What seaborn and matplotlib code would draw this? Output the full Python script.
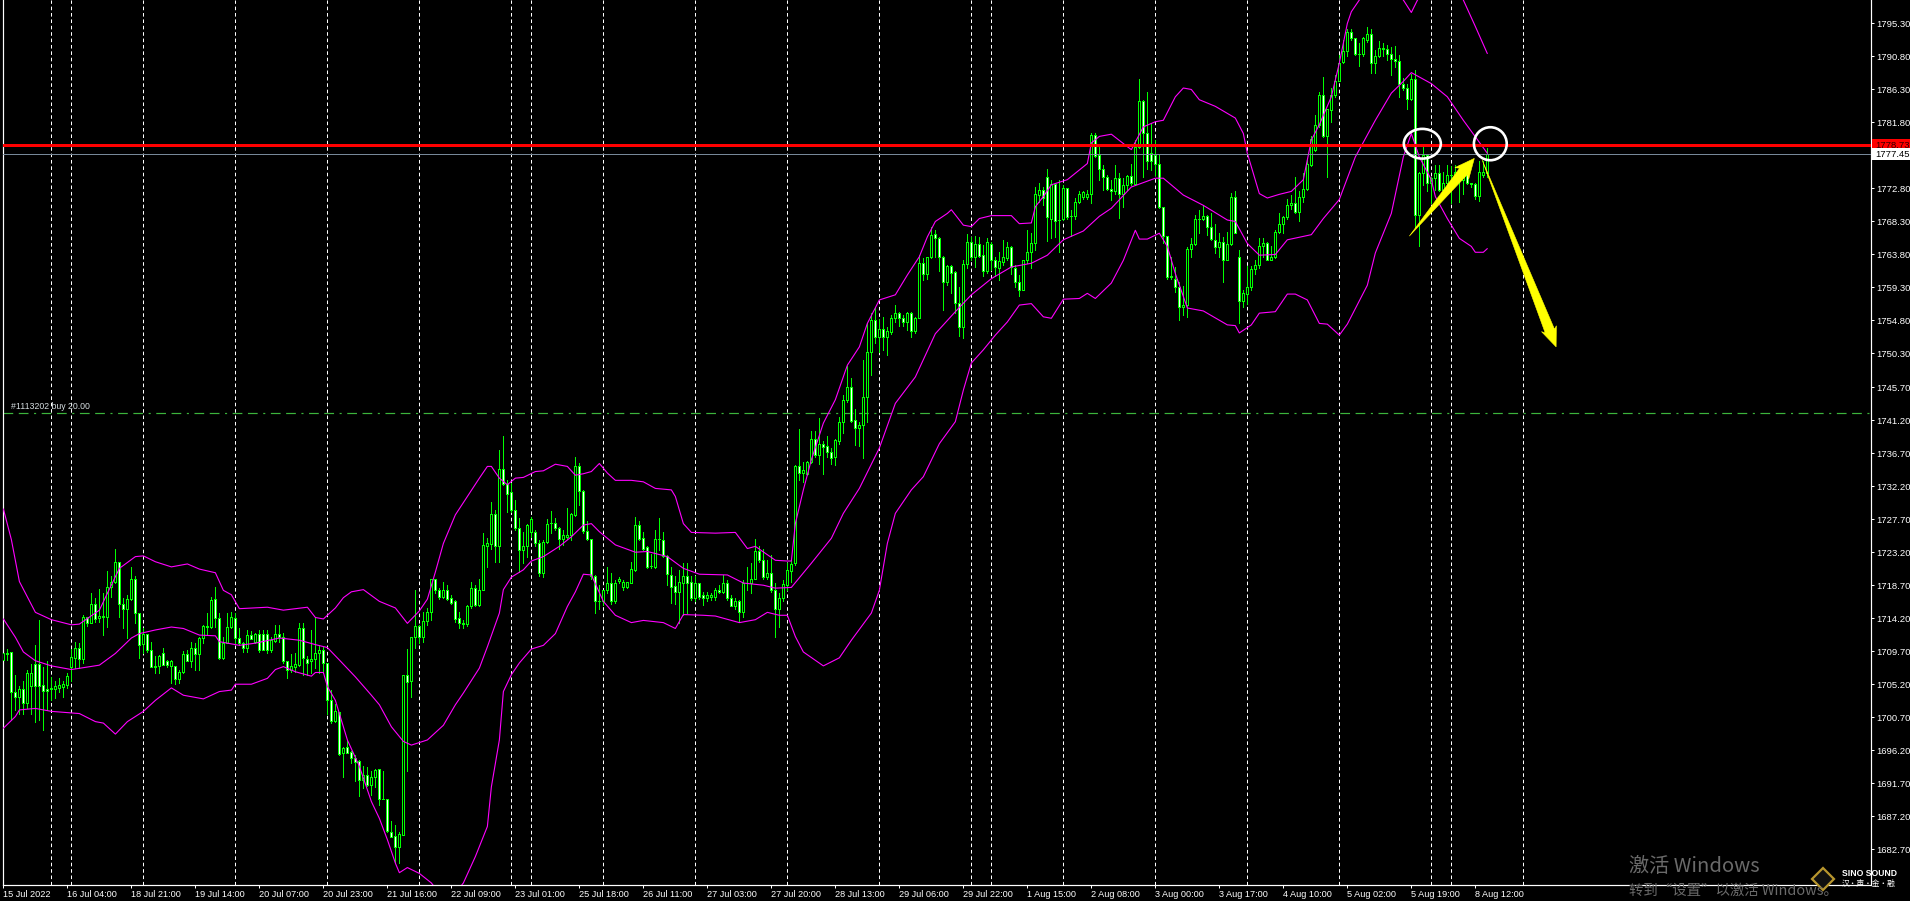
import numpy as np
import pandas as pd
import matplotlib
matplotlib.use("Agg")
import matplotlib.pyplot as plt
from matplotlib.patches import Ellipse, Polygon, Rectangle
import seaborn as sns

# ------------------------
# CHART DATA
# ------------------------

opens = [
    1708.5, 1709.3, 1709.6, 1704.1, 1703.5, 1704.5, 1702.6, 1704.9, 1708.0, 1708.0,
    1705.1, 1704.6, 1704.6, 1704.6, 1704.7, 1704.8, 1705.1, 1707.5, 1708.8, 1710.1,
    1708.6, 1714.3, 1713.6, 1716.2, 1714.2, 1714.3, 1714.4, 1718.4, 1719.1, 1721.9,
    1716.2, 1715.5, 1716.8, 1719.5, 1714.9, 1710.7, 1712.1, 1709.8, 1707.7, 1707.7,
    1709.4, 1708.3, 1707.7, 1707.7, 1705.9, 1706.9, 1709.3, 1708.4, 1710.1, 1709.3,
    1711.5, 1713.0, 1713.0, 1716.8, 1714.2, 1708.8, 1710.8, 1713.0, 1714.2, 1711.5,
    1710.8, 1710.1, 1711.9, 1711.0, 1712.0, 1712.0, 1712.0, 1709.8, 1711.1, 1712.1,
    1711.6, 1708.3, 1707.2, 1707.5, 1707.8, 1712.8, 1708.7, 1708.3, 1708.7, 1709.4,
    1709.8, 1708.05, 1703.1, 1700.2, 1701.4, 1695.8, 1696.6, 1695.9, 1695.2, 1694.7,
    1692.1, 1692.8, 1691.5, 1692.6, 1693.6, 1689.6, 1689.5, 1685.1, 1684.5, 1683.0,
    1684.7, 1706.5, 1705.7, 1711.7, 1713.2, 1711.6, 1713.8, 1715.0, 1719.5, 1718.0,
    1717.1, 1718.1, 1716.9, 1716.5, 1714.2, 1713.4, 1713.4, 1715.8, 1718.3, 1716.0,
    1718.1, 1724.1, 1724.3, 1728.4, 1724.0, 1734.6, 1732.5, 1731.4, 1729.0, 1726.5,
    1723.5, 1724.0, 1726.0, 1726.0, 1724.5, 1720.4, 1724.6, 1727.2, 1727.2, 1726.5,
    1725.0, 1725.3, 1725.5, 1728.3, 1735.0, 1731.6, 1726.1, 1725.0, 1719.9, 1716.5,
    1716.5, 1718.0, 1719.0, 1716.5, 1719.3, 1718.5, 1718.5, 1719.0, 1720.8, 1726.9,
    1725.2, 1723.9, 1721.3, 1721.2, 1725.0, 1724.9, 1722.7, 1720.1, 1718.6, 1717.8,
    1719.0, 1720.0, 1719.1, 1717.0, 1719.0, 1717.3, 1717.0, 1717.1, 1717.1, 1718.1,
    1717.8, 1719.0, 1717.0, 1715.9, 1716.6, 1715.0, 1719.0, 1719.0, 1719.6, 1723.4,
    1722.1, 1719.8, 1720.4, 1718.0, 1715.5, 1717.0, 1718.7, 1720.7, 1721.7, 1734.9,
    1734.0, 1733.9, 1735.5, 1738.6, 1736.4, 1737.9, 1737.7, 1736.9, 1736.2, 1738.4,
    1740.9, 1743.9, 1745.7, 1741.2, 1740.1, 1740.5, 1744.4, 1750.5, 1754.9, 1752.5,
    1753.7, 1752.5, 1753.2, 1755.2, 1755.8, 1755.1, 1754.6, 1755.8, 1753.4, 1755.2,
    1762.6, 1761.1, 1763.4, 1766.6, 1766.1, 1763.5, 1760.1, 1762.2, 1761.4, 1757.2,
    1753.9, 1762.5, 1765.5, 1763.4, 1765.2, 1763.7, 1761.5, 1765.2, 1763.1, 1762.0,
    1762.8, 1763.3, 1764.8, 1762.0, 1760.1, 1758.9, 1763.0, 1764.2, 1765.3, 1771.9,
    1772.6, 1774.4, 1768.6, 1773.4, 1768.5, 1768.7, 1772.8, 1769.1, 1769.1, 1770.9,
    1771.6, 1771.6, 1772.1, 1780.1, 1777.4, 1775.4, 1774.4, 1772.7, 1772.4, 1774.2,
    1772.0, 1773.3, 1774.5, 1773.4, 1778.4, 1784.7, 1780.4, 1777.7, 1777.4, 1776.1,
    1770.3, 1766.3, 1760.9, 1760.5, 1759.4, 1756.6, 1756.9, 1764.6, 1765.2, 1768.6,
    1768.7, 1769.0, 1767.5, 1765.8, 1764.8, 1765.5, 1763.1, 1765.2, 1771.6, 1763.4,
    1757.5, 1758.4, 1759.3, 1761.8, 1762.3, 1765.0, 1765.3, 1763.1, 1763.5, 1766.9,
    1767.9, 1768.9, 1770.6, 1770.8, 1769.6, 1771.6, 1772.7, 1776.0, 1778.0, 1781.5,
    1785.5, 1779.9, 1783.5, 1785.5, 1787.4, 1790.1, 1791.5, 1794.2, 1793.3, 1791.1,
    1791.1, 1793.1, 1793.8, 1789.9, 1790.9, 1792.0, 1791.8, 1791.1, 1790.5, 1790.2,
    1787.0, 1786.5, 1785.0, 1787.7, 1769.2, 1774.9, 1777.4, 1773.5, 1774.2, 1774.9,
    1772.6, 1773.5, 1774.6, 1774.7, 1775.1, 1774.0, 1774.8, 1773.5, 1773.4, 1771.8,
    1774.7, 1774.9,
]

closes = [
    1709.4, 1709.4, 1704.1, 1703.5, 1704.5, 1702.6, 1706.7, 1706.7, 1704.9, 1704.9,
    1704.3, 1704.3, 1704.7, 1704.9, 1705.1, 1705.2, 1706.3, 1708.9, 1710.1, 1708.6,
    1714.3, 1713.6, 1716.2, 1714.1, 1714.5, 1714.5, 1718.4, 1719.1, 1721.9, 1716.2,
    1715.5, 1716.8, 1719.5, 1714.9, 1710.5, 1712.0, 1709.8, 1707.6, 1707.6, 1709.0,
    1707.8, 1707.8, 1708.3, 1705.9, 1706.9, 1709.3, 1708.4, 1710.1, 1709.3, 1711.5,
    1713.2, 1713.2, 1716.7, 1714.2, 1708.8, 1710.8, 1713.0, 1714.3, 1711.5, 1710.8,
    1710.1, 1711.9, 1711.4, 1712.0, 1709.9, 1709.9, 1709.8, 1711.2, 1712.1, 1711.6,
    1708.3, 1707.2, 1707.7, 1708.0, 1712.8, 1708.8, 1708.1, 1708.7, 1709.4, 1709.8,
    1708.1, 1703.0, 1700.2, 1701.5, 1695.7, 1696.5, 1695.8, 1695.2, 1694.6, 1692.2,
    1692.8, 1691.5, 1692.5, 1693.5, 1689.5, 1689.5, 1685.2, 1684.4, 1683.0, 1684.8,
    1706.5, 1705.5, 1711.7, 1713.1, 1711.6, 1713.8, 1715.1, 1719.5, 1718.1, 1717.1,
    1718.1, 1716.8, 1716.3, 1714.1, 1713.5, 1713.5, 1715.8, 1718.3, 1716.0, 1718.1,
    1724.2, 1724.4, 1728.4, 1724.0, 1734.6, 1732.5, 1731.2, 1729.0, 1726.5, 1723.5,
    1724.0, 1726.9, 1727.7, 1724.5, 1720.4, 1724.6, 1727.1, 1727.2, 1726.5, 1725.0,
    1725.6, 1725.6, 1728.4, 1735.0, 1731.6, 1726.1, 1725.0, 1719.9, 1716.6, 1716.6,
    1718.0, 1719.0, 1716.5, 1719.0, 1719.5, 1719.2, 1719.2, 1720.9, 1726.9, 1725.0,
    1723.7, 1721.2, 1721.3, 1725.0, 1725.0, 1722.7, 1720.2, 1718.5, 1717.8, 1719.2,
    1719.9, 1719.0, 1716.9, 1719.0, 1717.1, 1717.0, 1717.3, 1717.4, 1718.1, 1717.8,
    1719.0, 1717.0, 1715.9, 1716.6, 1715.0, 1719.0, 1719.0, 1719.6, 1723.4, 1722.1,
    1719.8, 1720.4, 1718.0, 1715.5, 1717.0, 1718.8, 1720.8, 1721.6, 1734.9, 1734.0,
    1734.4, 1735.5, 1738.6, 1736.4, 1737.9, 1737.6, 1736.8, 1736.1, 1738.5, 1740.9,
    1744.0, 1745.7, 1741.1, 1740.1, 1740.5, 1744.4, 1750.5, 1754.8, 1752.5, 1753.7,
    1752.5, 1753.3, 1755.2, 1755.8, 1755.1, 1754.6, 1755.8, 1753.4, 1755.2, 1762.6,
    1761.1, 1763.4, 1766.4, 1766.1, 1763.5, 1760.1, 1762.2, 1761.3, 1757.2, 1753.9,
    1762.5, 1765.5, 1763.4, 1765.2, 1763.6, 1761.6, 1765.5, 1763.0, 1762.1, 1762.9,
    1763.4, 1764.8, 1762.1, 1760.1, 1758.9, 1763.0, 1764.2, 1765.4, 1772.0, 1772.6,
    1771.5, 1768.9, 1773.4, 1768.4, 1768.5, 1772.8, 1768.9, 1769.1, 1770.9, 1772.1,
    1772.3, 1772.1, 1780.1, 1777.2, 1775.4, 1774.4, 1772.7, 1772.4, 1774.2, 1772.0,
    1773.3, 1774.5, 1773.5, 1778.4, 1784.7, 1780.3, 1776.6, 1776.6, 1776.1, 1770.3,
    1766.3, 1760.7, 1760.7, 1759.4, 1756.6, 1756.9, 1764.6, 1765.2, 1768.7, 1768.7,
    1769.1, 1767.5, 1765.9, 1764.8, 1765.5, 1763.1, 1765.2, 1771.6, 1766.7, 1757.5,
    1758.5, 1759.3, 1761.8, 1762.3, 1765.0, 1765.3, 1763.1, 1763.5, 1766.9, 1767.9,
    1768.9, 1770.6, 1770.8, 1769.6, 1771.6, 1772.7, 1776.1, 1779.5, 1781.5, 1785.5,
    1779.9, 1783.6, 1785.5, 1787.4, 1789.95, 1791.5, 1794.2, 1793.3, 1791.1, 1791.1,
    1793.3, 1793.8, 1789.9, 1790.9, 1792.0, 1791.8, 1791.1, 1790.5, 1790.2, 1787.0,
    1786.5, 1785.0, 1787.7, 1769.2, 1774.9, 1777.4, 1773.5, 1774.2, 1774.9, 1772.6,
    1773.5, 1774.6, 1774.6, 1775.0, 1775.3, 1774.6, 1773.5, 1773.4, 1771.8, 1775.0,
    1775.0, 1777.5,
]

highs = [
    1712.4, 1710.0, 1709.6, 1706.5, 1704.9, 1705.6, 1707.1, 1708.0, 1710.6, 1714.0,
    1707.6, 1708.3, 1706.2, 1705.6, 1706.0, 1705.6, 1706.7, 1710.0, 1711.0, 1710.8,
    1714.7, 1714.3, 1717.6, 1716.9, 1718.2, 1717.6, 1720.6, 1719.9, 1723.7, 1721.9,
    1716.9, 1717.4, 1721.2, 1719.9, 1714.9, 1712.8, 1712.1, 1711.0, 1709.0, 1709.2,
    1710.1, 1708.5, 1708.5, 1707.7, 1707.2, 1709.7, 1709.9, 1711.0, 1710.8, 1711.7,
    1713.3, 1714.9, 1717.1, 1718.4, 1714.9, 1711.7, 1714.9, 1715.1, 1714.9, 1712.8,
    1711.0, 1712.6, 1712.4, 1712.2, 1712.6, 1712.6, 1712.6, 1711.7, 1713.3, 1713.3,
    1712.2, 1708.3, 1709.3, 1709.4, 1713.6, 1713.5, 1709.0, 1712.6, 1714.4, 1710.6,
    1710.3, 1708.1, 1704.4, 1702.5, 1701.4, 1696.7, 1697.4, 1696.1, 1695.5, 1694.9,
    1694.0, 1693.9, 1693.3, 1693.6, 1693.7, 1693.4, 1689.6, 1686.5, 1686.0, 1685.1,
    1706.5, 1710.0, 1711.7, 1718.1, 1713.3, 1715.1, 1715.6, 1719.6, 1719.6, 1718.3,
    1719.2, 1718.7, 1717.4, 1716.7, 1715.1, 1714.0, 1716.0, 1719.2, 1718.7, 1719.6,
    1725.8, 1725.1, 1730.0, 1729.0, 1737.2, 1739.0, 1733.0, 1732.6, 1730.3, 1727.8,
    1726.0, 1727.1, 1728.0, 1726.2, 1724.9, 1724.9, 1727.7, 1728.8, 1727.8, 1726.7,
    1726.2, 1729.2, 1728.5, 1736.2, 1735.4, 1731.7, 1727.4, 1725.0, 1720.1, 1718.7,
    1718.0, 1721.2, 1720.3, 1719.4, 1719.8, 1719.4, 1719.2, 1721.9, 1728.0, 1727.5,
    1726.0, 1724.0, 1723.0, 1726.2, 1727.8, 1725.9, 1722.8, 1721.2, 1719.9, 1720.8,
    1721.7, 1721.7, 1719.9, 1720.0, 1719.0, 1717.8, 1717.8, 1717.6, 1718.3, 1718.7,
    1720.1, 1719.4, 1717.4, 1716.9, 1716.7, 1719.4, 1721.2, 1721.7, 1725.0, 1724.0,
    1723.7, 1722.1, 1722.8, 1719.0, 1717.6, 1719.4, 1721.7, 1722.1, 1735.1, 1740.0,
    1735.5, 1735.6, 1739.7, 1739.7, 1741.5, 1738.3, 1739.0, 1737.4, 1738.6, 1741.6,
    1744.6, 1748.6, 1746.9, 1742.7, 1741.0, 1749.4, 1754.4, 1755.8, 1756.7, 1755.0,
    1755.3, 1753.9, 1755.5, 1756.9, 1756.0, 1755.5, 1756.0, 1756.0, 1755.3, 1763.7,
    1763.3, 1763.5, 1767.6, 1767.2, 1766.2, 1763.6, 1762.4, 1762.4, 1761.5, 1759.3,
    1763.0, 1766.6, 1766.2, 1766.3, 1766.2, 1765.1, 1766.0, 1765.5, 1763.4, 1764.2,
    1765.8, 1765.5, 1765.0, 1762.4, 1761.0, 1763.1, 1767.2, 1766.7, 1773.0, 1773.5,
    1773.0, 1775.5, 1774.0, 1773.5, 1774.0, 1773.3, 1772.8, 1769.9, 1771.5, 1772.5,
    1772.5, 1772.6, 1780.3, 1780.3, 1778.4, 1776.0, 1774.6, 1774.0, 1776.0, 1774.9,
    1774.2, 1774.6, 1776.2, 1779.4, 1787.7, 1784.9, 1785.9, 1781.7, 1779.4, 1777.4,
    1770.3, 1766.3, 1763.5, 1762.1, 1760.1, 1759.5, 1764.8, 1766.0, 1769.2, 1769.9,
    1770.5, 1769.2, 1769.4, 1768.0, 1766.7, 1766.2, 1766.9, 1772.2, 1772.5, 1764.4,
    1759.0, 1762.2, 1762.2, 1763.0, 1766.0, 1766.0, 1765.5, 1765.0, 1767.1, 1769.4,
    1769.0, 1771.3, 1771.9, 1774.4, 1772.4, 1774.9, 1776.7, 1780.0, 1782.8, 1786.0,
    1788.0, 1783.7, 1786.5, 1788.3, 1791.0, 1793.0, 1794.6, 1794.5, 1793.3, 1792.6,
    1793.5, 1794.8, 1794.6, 1791.7, 1792.95, 1792.7, 1792.4, 1792.1, 1792.2, 1791.0,
    1787.8, 1787.1, 1788.4, 1789.0, 1775.1, 1778.6, 1777.5, 1774.4, 1776.0, 1776.0,
    1775.1, 1776.0, 1775.8, 1776.0, 1776.0, 1775.9, 1775.1, 1773.6, 1773.5, 1776.5,
    1776.5, 1778.3,
]

lows = [
    1707.6, 1708.5, 1700.5, 1701.7, 1701.2, 1701.2, 1701.9, 1701.2, 1700.1, 1700.3,
    1699.0, 1701.7, 1703.0, 1703.3, 1704.2, 1703.5, 1704.7, 1705.6, 1707.4, 1707.4,
    1708.1, 1713.1, 1713.5, 1713.7, 1713.7, 1711.9, 1713.0, 1717.1, 1719.0, 1714.4,
    1712.8, 1711.5, 1716.7, 1713.5, 1708.8, 1709.4, 1709.6, 1707.6, 1706.7, 1706.7,
    1707.8, 1707.6, 1705.3, 1705.2, 1705.3, 1706.7, 1708.3, 1707.6, 1707.2, 1707.2,
    1710.8, 1711.9, 1712.8, 1713.0, 1708.6, 1708.7, 1710.8, 1712.8, 1710.8, 1710.6,
    1709.6, 1709.6, 1711.3, 1710.8, 1709.6, 1709.8, 1709.4, 1709.6, 1711.0, 1711.0,
    1708.1, 1706.0, 1706.9, 1706.8, 1707.7, 1706.5, 1706.5, 1706.7, 1707.4, 1706.7,
    1706.7, 1701.2, 1699.9, 1700.0, 1695.5, 1692.5, 1695.8, 1694.5, 1692.0, 1690.0,
    1691.0, 1691.3, 1690.1, 1691.2, 1688.7, 1689.5, 1685.1, 1684.4, 1681.0, 1680.8,
    1684.6, 1693.3, 1703.5, 1710.2, 1710.8, 1711.0, 1713.3, 1714.0, 1717.6, 1716.8,
    1716.9, 1716.7, 1716.2, 1713.7, 1712.8, 1712.8, 1713.1, 1715.6, 1715.8, 1715.8,
    1718.0, 1721.2, 1723.7, 1721.9, 1721.9, 1732.4, 1728.7, 1728.7, 1726.2, 1720.5,
    1721.7, 1722.6, 1725.3, 1724.0, 1719.9, 1719.8, 1724.4, 1725.8, 1726.2, 1723.7,
    1724.2, 1725.0, 1724.9, 1728.1, 1729.6, 1725.8, 1724.9, 1719.6, 1714.9, 1715.4,
    1716.0, 1717.6, 1716.1, 1716.3, 1719.0, 1718.0, 1718.3, 1719.0, 1720.7, 1724.9,
    1723.5, 1721.0, 1721.0, 1721.1, 1723.5, 1722.6, 1718.7, 1716.3, 1716.2, 1713.5,
    1714.6, 1714.9, 1716.7, 1716.5, 1716.8, 1716.0, 1716.6, 1716.7, 1716.7, 1717.6,
    1717.6, 1716.7, 1715.8, 1715.5, 1713.7, 1714.4, 1718.0, 1717.6, 1719.5, 1721.9,
    1719.6, 1719.6, 1717.8, 1711.7, 1713.0, 1716.6, 1718.0, 1719.2, 1721.4, 1733.1,
    1732.8, 1733.7, 1735.3, 1736.2, 1735.2, 1733.9, 1736.2, 1735.2, 1735.1, 1738.0,
    1739.4, 1743.7, 1740.9, 1737.8, 1737.7, 1736.1, 1741.0, 1747.4, 1751.7, 1750.5,
    1750.8, 1750.1, 1753.0, 1754.6, 1754.0, 1754.0, 1753.5, 1752.5, 1753.1, 1755.1,
    1760.3, 1760.5, 1763.3, 1763.5, 1761.6, 1756.2, 1759.6, 1758.5, 1755.8, 1752.7,
    1752.4, 1761.9, 1763.0, 1762.1, 1763.4, 1760.8, 1761.3, 1761.7, 1760.8, 1760.3,
    1762.4, 1763.1, 1761.2, 1759.4, 1758.1, 1758.9, 1762.6, 1761.9, 1764.4, 1771.0,
    1770.5, 1765.7, 1766.0, 1766.2, 1764.2, 1768.5, 1768.6, 1766.3, 1768.7, 1770.8,
    1771.3, 1771.3, 1770.8, 1777.1, 1774.0, 1772.6, 1772.6, 1771.2, 1772.1, 1768.8,
    1770.3, 1772.6, 1773.3, 1773.3, 1778.3, 1774.4, 1775.5, 1775.3, 1774.6, 1770.2,
    1765.3, 1760.5, 1760.5, 1758.7, 1754.8, 1755.5, 1755.3, 1763.5, 1765.1, 1766.7,
    1768.5, 1766.4, 1765.8, 1764.0, 1763.5, 1760.1, 1763.0, 1765.1, 1766.7, 1754.4,
    1756.7, 1757.1, 1759.0, 1761.2, 1761.9, 1763.5, 1763.0, 1763.0, 1763.3, 1766.7,
    1766.7, 1768.7, 1770.0, 1769.5, 1768.3, 1770.9, 1772.6, 1775.9, 1777.9, 1781.2,
    1779.8, 1774.3, 1781.9, 1785.3, 1787.4, 1789.9, 1790.9, 1793.1, 1791.0, 1789.5,
    1790.9, 1792.8, 1788.6, 1788.6, 1790.7, 1790.8, 1790.3, 1788.3, 1789.4, 1785.3,
    1786.2, 1783.7, 1784.9, 1767.6, 1765.0, 1773.3, 1772.5, 1770.8, 1772.6, 1772.4,
    1771.9, 1772.6, 1770.8, 1773.5, 1771.0, 1772.0, 1773.4, 1773.0, 1771.4, 1771.1,
    1774.4, 1774.4,
]

upper_bar = [0, 2, 4, 8, 12, 17, 19, 24, 26, 29, 33, 35, 38, 42, 46, 49, 53, 55, 57, 59, 66, 70, 76, 78, 80, 83, 85, 87, 90, 94,
             98, 101, 104, 106, 108, 110, 113, 116, 119, 121, 122, 124, 126, 128, 130, 133, 135, 138, 141, 143, 145, 147, 149, 151, 153, 157, 160, 163, 167, 168,
             170, 172, 178, 183, 186, 188, 193, 196, 197, 198, 200, 202, 205, 208, 211, 214, 216, 219, 223, 226, 229, 231, 233, 236, 237, 240, 242, 244, 247, 252,
             254, 257, 258, 260, 262, 266, 271, 272, 274, 277, 281, 282, 285, 288, 290, 293, 295, 297, 299, 303, 308, 310, 311, 314, 316, 319, 322, 325, 327, 329,
             332, 334, 336, 337, 339, 342, 346, 350, 352, 354, 358, 362, 365, 368, 371]
upper_val = [1729.1, 1724.9, 1719.2, 1715.0, 1714.0, 1713.3, 1713.4, 1715.3, 1717.6, 1721.0, 1722.6, 1722.7, 1721.9, 1721.2, 1721.6, 1720.9, 1720.4, 1718.0, 1717.4, 1715.5, 1715.7, 1715.3, 1715.7, 1714.3, 1714.1, 1715.6, 1717.0, 1717.8, 1718.1, 1716.5,
             1715.6, 1713.5, 1715.2, 1716.8, 1720.5, 1724.4, 1728.3, 1730.8, 1733.3, 1734.9, 1734.9, 1733.3, 1732.4, 1733.3, 1733.4, 1734.2, 1734.3, 1735.2, 1734.9, 1733.7, 1733.9, 1734.2, 1735.3, 1734.0, 1733.0, 1733.0, 1732.8, 1731.9, 1731.7, 1730.8,
             1727.1, 1725.9, 1725.8, 1725.9, 1723.7, 1724.0, 1722.1, 1722.0, 1722.0, 1727.1, 1731.7, 1735.8, 1740.8, 1744.0, 1748.7, 1751.2, 1754.4, 1757.6, 1758.3, 1761.0, 1763.5, 1766.2, 1768.3, 1769.4, 1769.9, 1767.8, 1767.6, 1768.7, 1769.1, 1769.1,
             1768.0, 1768.1, 1770.3, 1771.7, 1773.3, 1774.0, 1776.2, 1779.0, 1779.9, 1780.2, 1778.5, 1778.1, 1781.2, 1781.9, 1782.1, 1785.3, 1786.5, 1786.3, 1784.9, 1784.0, 1782.4, 1780.3, 1777.6, 1772.1, 1771.5, 1772.0, 1772.4, 1774.0, 1779.4, 1781.5,
             1785.3, 1789.9, 1795.3, 1796.9, 1798.5, 1800.5, 1800.5, 1798.5, 1796.8, 1799.0, 1802.0, 1801.0, 1798.5, 1794.9, 1791.2]

mid_bar = [0, 3, 5, 8, 12, 17, 24, 28, 32, 34, 38, 42, 45, 49, 53, 54, 59, 63, 69, 74, 78, 81, 84, 88, 92, 94, 97, 100, 102, 106,
           110, 113, 115, 119, 121, 124, 125, 127, 130, 132, 135, 139, 142, 145, 147, 149, 153, 158, 161, 166, 170, 174, 181, 185, 190, 193, 197, 202, 207, 210,
           214, 219, 223, 228, 233, 238, 242, 247, 252, 257, 261, 265, 270, 274, 277, 282, 288, 290, 295, 300, 306, 308, 311, 314, 318, 321, 327, 330, 334, 338,
           343, 347, 350, 352, 357, 361, 365, 371]
mid_val = [1714.1, 1711.6, 1709.6, 1708.4, 1707.7, 1707.2, 1707.8, 1709.4, 1711.5, 1712.1, 1712.6, 1713.0, 1712.8, 1711.9, 1711.8, 1711.0, 1710.5, 1710.8, 1711.5, 1711.2, 1710.6, 1710.2, 1708.5, 1706.2, 1703.7, 1702.4, 1699.4, 1697.4, 1696.9, 1697.6,
           1699.6, 1702.4, 1704.0, 1707.4, 1710.3, 1714.9, 1718.1, 1719.8, 1720.8, 1722.0, 1722.6, 1724.0, 1725.3, 1726.9, 1727.1, 1726.0, 1724.2, 1723.2, 1723.3, 1722.6, 1721.0, 1720.2, 1720.1, 1719.0, 1718.7, 1718.3, 1718.4, 1721.7, 1725.1, 1728.5,
           1731.9, 1737.4, 1743.5, 1747.1, 1753.0, 1756.0, 1758.3, 1760.5, 1762.1, 1762.6, 1763.7, 1765.8, 1767.0, 1769.0, 1770.1, 1773.0, 1774.2, 1774.2, 1771.9, 1770.5, 1768.5, 1768.3, 1765.3, 1763.7, 1763.8, 1765.8, 1766.5, 1768.7, 1771.3, 1777.1,
           1782.1, 1785.8, 1787.4, 1788.6, 1787.1, 1785.3, 1782.1, 1777.6]

low_bar = [0, 3, 4, 8, 12, 19, 23, 25, 28, 31, 35, 38, 42, 45, 50, 54, 57, 58, 62, 66, 68, 70, 73, 77, 78, 80, 81, 83, 86, 89,
           92, 94, 96, 98, 99, 101, 104, 107, 110, 112, 115, 118, 121, 122, 124, 125, 127, 129, 132, 135, 138, 141, 143, 145, 147, 150, 153, 157, 160, 165,
           168, 170, 175, 178, 184, 188, 191, 194, 196, 198, 200, 205, 209, 212, 217, 219, 221, 223, 227, 230, 234, 238, 240, 242, 245, 248, 251, 254, 257, 260,
           262, 265, 269, 271, 273, 277, 280, 283, 284, 286, 289, 291, 293, 296, 300, 306, 308, 309, 312, 314, 318, 321, 323, 326, 329, 331, 334, 336, 341, 343,
           347, 350, 352, 354, 357, 358, 361, 364, 367, 368, 370, 371]
low_val = [1699.2, 1700.8, 1701.7, 1701.9, 1701.5, 1701.2, 1700.1, 1699.9, 1698.4, 1700.1, 1701.5, 1703.0, 1704.7, 1703.7, 1703.2, 1704.2, 1704.4, 1705.2, 1705.2, 1706.0, 1707.2, 1707.6, 1706.9, 1706.3, 1706.8, 1706.8, 1704.9, 1703.0, 1697.6, 1694.0,
           1689.2, 1686.9, 1684.0, 1680.8, 1679.5, 1680.2, 1679.4, 1678.1, 1676.0, 1676.0, 1678.1, 1681.7, 1685.8, 1691.2, 1697.6, 1704.2, 1706.5, 1708.1, 1710.0, 1710.5, 1712.1, 1715.8, 1717.8, 1720.2, 1720.1, 1716.5, 1714.6, 1713.6, 1713.9, 1713.6,
           1712.8, 1714.7, 1714.6, 1714.5, 1713.6, 1714.0, 1715.0, 1714.6, 1714.6, 1711.7, 1709.6, 1707.7, 1708.8, 1711.2, 1714.9, 1718.0, 1724.4, 1728.5, 1731.7, 1733.5, 1738.0, 1741.0, 1745.3, 1749.0, 1750.8, 1752.8, 1754.6, 1756.9, 1757.1, 1755.3,
           1755.1, 1757.7, 1757.8, 1758.5, 1757.8, 1759.9, 1763.0, 1767.1, 1765.9, 1765.9, 1766.7, 1764.9, 1761.2, 1756.5, 1756.1, 1754.2, 1754.1, 1753.1, 1754.2, 1755.8, 1756.0, 1758.4, 1758.4, 1757.6, 1754.4, 1754.3, 1752.8, 1754.3, 1759.6, 1764.0,
           1769.4, 1777.1, 1780.3, 1777.1, 1774.0, 1771.7, 1768.7, 1766.0, 1764.9, 1764.1, 1764.1, 1764.6]

separator_bars = [12, 17, 35, 58, 81, 104, 127, 132, 150, 173, 196, 219, 242, 247, 265, 288, 311, 334, 357, 362, 380]

date_ticks = [0, 16, 32, 48, 64, 80, 96, 112, 128, 144, 160, 176, 192, 208, 224, 240, 256, 272, 288, 304, 320, 336, 352, 368]
date_labels = ["15 Jul 2022", "16 Jul 04:00", "18 Jul 21:00", "19 Jul 14:00", "20 Jul 07:00", "20 Jul 23:00",
               "21 Jul 16:00", "22 Jul 09:00", "23 Jul 01:00", "25 Jul 18:00", "26 Jul 11:00", "27 Jul 03:00",
               "27 Jul 20:00", "28 Jul 13:00", "29 Jul 06:00", "29 Jul 22:00", "1 Aug 15:00", "2 Aug 08:00",
               "3 Aug 00:00", "3 Aug 17:00", "4 Aug 10:00", "5 Aug 02:00", "5 Aug 19:00", "8 Aug 12:00"]

price_ticks = [1795.30, 1790.80, 1786.30, 1781.80, 1772.80, 1768.30, 1763.80, 1759.30, 1754.80, 1750.30,
               1745.70, 1741.20, 1736.70, 1732.20, 1727.70, 1723.20, 1718.70, 1714.20, 1709.70, 1705.20,
               1700.70, 1696.20, 1691.70, 1687.20, 1682.70]

resistance = 1778.73
last_price = 1777.45
order_price = 1742.15
order_label = "#1113202 buy 20.00"

PX = 0.72  # one pixel in points at dpi 100
GREEN = "#00FF00"

# ------------------------
# DRAWING HELPERS
# ------------------------

def tapered_arrow(ax, tail, tip, shaft_px, head_px, head_len_px, color="#FFFF00"):
    # needle shaped arrow, thin at the tail and widest just before the head
    to_px = ax.transData.transform
    a, b = to_px(tail), to_px(tip)
    d = (b - a) / np.hypot(*(b - a))
    n = np.array([-d[1], d[0]])
    neck = b - d * head_len_px
    barb = neck - d * head_len_px * 0.15
    pts = [a, neck + n * shaft_px / 2, barb + n * head_px / 2, b,
           barb - n * head_px / 2, neck - n * shaft_px / 2]
    ax.add_patch(Polygon(ax.transData.inverted().transform(np.array(pts)), closed=True,
                         facecolor=color, edgecolor=color, linewidth=0.4, zorder=7))


def draw_candles(ax, df):
    ax.vlines(df["bar"], df["low"], df["high"], color=GREEN, linewidth=PX,
              antialiaseds=False, zorder=2)
    fills = np.where(df["close"] < df["open"], "white", "black")
    ax.bar(df["bar"], (df["close"] - df["open"]).abs(), bottom=df[["open", "close"]].min(axis=1),
           width=0.5, color=fills, edgecolor=GREEN, linewidth=PX, antialiased=False, zorder=3)


# ------------------------
# MAIN EXECUTION
# ------------------------

if __name__ == "__main__":

    sns.set_style("dark", {"axes.facecolor": "black", "figure.facecolor": "black",
                           "axes.edgecolor": "white", "axes.grid": False})
    plt.rcParams["font.family"] = ["Liberation Sans", "Noto Sans CJK SC", "DejaVu Sans"]
    plt.rcParams["lines.scale_dashes"] = False

    candles = pd.DataFrame({"open": opens, "high": highs, "low": lows, "close": closes})
    candles["bar"] = candles.index

    W, H = 1910, 901
    fig = plt.figure(figsize=(W / 100, H / 100), dpi=100)
    ax = fig.add_axes([2.5 / W, (H - 884.5) / H, 1868 / W, 884.5 / H])
    ax.set_xlim(-0.225, 466.8)
    ax.set_ylim(1677.89, 1798.5)

    draw_candles(ax, candles)

    for bars, vals in [(upper_bar, upper_val), (mid_bar, mid_val), (low_bar, low_val)]:
        sns.lineplot(x=bars, y=vals, color="#FF00FF", linewidth=0.8, estimator=None, sort=False,
                     zorder=4, ax=ax)

    for b in separator_bars:
        ax.axvline(b, color="white", linewidth=PX, linestyle=(0, (2.6, 2.0)), zorder=1)

    ax.axhline(order_price, color="#3CB43C", linewidth=PX * 1.2, linestyle=(0, (7, 4, 7, 4, 1.5, 4)), zorder=1.5)
    ax.axhline(last_price, color="#778899", linewidth=PX, zorder=5)
    ax.axhline(resistance, color="#FF0000", linewidth=3 * PX, zorder=6)
    ax.text(1.8, order_price + 0.3, order_label, color="#D5DDE0", fontsize=6.3, ha="left", va="bottom")

    # hand drawn marks on top of the chart
    ax.add_patch(Ellipse((354.75, 1778.9), 9.25, 4.05, fill=False, edgecolor="white", linewidth=1.9, zorder=7))
    ax.add_patch(Ellipse((371.75, 1778.9), 8.2, 4.5, fill=False, edgecolor="white", linewidth=1.9, zorder=7))
    tapered_arrow(ax, (351.5, 1766.3), (367.75, 1776.9), 10, 18, 17)
    tapered_arrow(ax, (369.7, 1776.7), (388.2, 1751.2), 10, 16, 17)

    # axes, right price scale and bottom time scale
    for side in ["top"]:
        ax.spines[side].set_visible(False)
    for side in ["left", "right", "bottom"]:
        ax.spines[side].set_color("white")
        ax.spines[side].set_linewidth(PX * 1.2)

    ax.yaxis.tick_right()
    ax.set_yticks(price_ticks)
    ax.set_yticklabels([f"{p:.2f}" for p in price_ticks])
    ax.set_xticks(date_ticks)
    ax.set_xticklabels(date_labels, ha="left")
    ax.tick_params(axis="y", colors="white", length=2.2, width=PX, pad=2, labelsize=6.8, right=True, left=False)
    ax.tick_params(axis="x", colors="white", length=2.4, width=PX, pad=1.5, labelsize=6.6, bottom=True)
    ax.set_xlabel("")
    ax.set_ylabel("")

    # price boxes on the scale
    box = ax.get_yaxis_transform()
    for price, face, ink in [(resistance, "#FF0000", "#300000"), (last_price, "white", "black")]:
        ax.add_patch(Rectangle((1 + 1.5 / 1868, price - 0.82), 40 / 1868, 1.64, transform=box,
                               facecolor=face, edgecolor="none", clip_on=False, zorder=8))
        ax.text(1 + 5 / 1868, price - 0.02, f"{price:.2f}", transform=box, color=ink,
                fontsize=6.8, ha="left", va="center", clip_on=False, zorder=9)

    # windows watermark and broker logo in the corner
    gray = "#6A6A6A"
    cjk = ["Noto Sans CJK SC", "DejaVu Sans"]
    fig.text(1629 / W, 1 - 867 / H, "激活 Windows", color=gray, fontsize=14.5, va="center", ha="left", family=cjk)
    fig.text(1629 / W, 1 - 891 / H, "转到“设置”以激活 Windows。", color=gray, fontsize=10.4, va="center", ha="left", family=cjk)

    logo = [(1823, 868), (1834, 879), (1823, 890), (1812, 879)]
    fig.add_artist(Polygon([(x / W, 1 - y / H) for x, y in logo], closed=True, transform=fig.transFigure,
                           facecolor="#101010", edgecolor="#B8962E", linewidth=1.6))
    fig.text(1842 / W, 1 - 873 / H, "SINO SOUND", color="white", fontsize=6.2, fontweight="bold", va="center", ha="left")
    fig.text(1842 / W, 1 - 884 / H, "汉·声·金·融", color="white", fontsize=5.6, va="center", ha="left", family=cjk)

    fig.savefig("out.png", dpi=100, facecolor="black")
